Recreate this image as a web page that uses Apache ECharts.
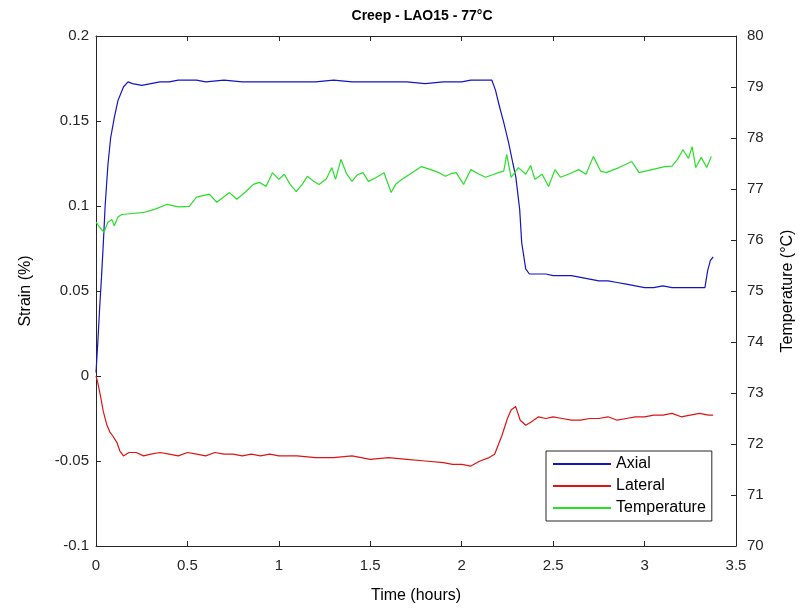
<!DOCTYPE html>
<html>
<head>
<meta charset="utf-8">
<script src="https://cdn.jsdelivr.net/npm/echarts@6/dist/echarts.min.js"></script>
<style>
  html, body { margin: 0; padding: 0; background: #fff; }
  #chart { width: 804px; height: 609px; }
</style>
</head>
<body>
<div id="chart"></div>
<script>
// axial strain (%) vs time (hours)
var axialTime = [0, 0.01, 0.02, 0.03, 0.04, 0.05, 0.065, 0.08, 0.1, 0.12, 0.15, 0.175,
  0.2, 0.25, 0.3, 0.35, 0.4, 0.45, 0.5, 0.55, 0.6,
  0.7, 0.8, 0.9, 1.0, 1.1, 1.2, 1.3, 1.4, 1.5, 1.6, 1.7, 1.8, 1.9, 2.0,
  2.05, 2.1,
  2.165, 2.185, 2.203, 2.23, 2.257, 2.28, 2.296, 2.317, 2.328, 2.35,
  2.37, 2.42, 2.46,
  2.5, 2.55, 2.6, 2.65, 2.7, 2.75, 2.8, 2.85, 2.9, 2.95, 3.0, 3.05, 3.1, 3.15, 3.2, 3.25, 3.3,
  3.33, 3.345, 3.36, 3.375];
var axialStrain = [0.002, 0.02, 0.04, 0.058, 0.078, 0.1, 0.124, 0.14, 0.152, 0.162, 0.17, 0.173,
  0.172, 0.171, 0.172, 0.173, 0.173, 0.174, 0.174, 0.174, 0.173,
  0.174, 0.173, 0.173, 0.173, 0.173, 0.173, 0.174, 0.173, 0.173, 0.173, 0.173, 0.172, 0.173, 0.173,
  0.174, 0.174,
  0.174, 0.168, 0.16, 0.149, 0.137, 0.125, 0.117, 0.098, 0.0785, 0.063,
  0.06, 0.06, 0.06,
  0.059, 0.059, 0.059, 0.058, 0.057, 0.056, 0.056, 0.055, 0.054, 0.053, 0.052, 0.052, 0.053, 0.052, 0.052, 0.052, 0.052,
  0.052, 0.062, 0.068, 0.07];

// lateral strain (%)
var lateralTime = [0, 0.01, 0.025, 0.04, 0.06, 0.076, 0.09, 0.114, 0.13, 0.15,
  0.18, 0.22, 0.26,
  0.3, 0.35, 0.4, 0.45, 0.5, 0.55, 0.6, 0.65, 0.7, 0.75, 0.8, 0.85, 0.9, 0.95, 1.0,
  1.1, 1.2, 1.3, 1.4, 1.5, 1.6, 1.7, 1.8, 1.9,
  1.95, 2.0, 2.05, 2.1, 2.15,
  2.18, 2.22, 2.25, 2.27, 2.295, 2.32, 2.35, 2.38, 2.42, 2.46,
  2.5, 2.55, 2.6, 2.65, 2.7, 2.75, 2.8, 2.85, 2.9, 2.95, 3.0, 3.05, 3.1, 3.15, 3.2, 3.25, 3.3, 3.35,
  3.375];
var lateralStrain = [0, -0.004, -0.012, -0.021, -0.029, -0.033, -0.035, -0.039, -0.044, -0.047,
  -0.045, -0.045, -0.047,
  -0.046, -0.045, -0.046, -0.047, -0.045, -0.046, -0.047, -0.045, -0.046, -0.046, -0.047, -0.046, -0.047, -0.046, -0.047,
  -0.047, -0.048, -0.048, -0.047, -0.049, -0.048, -0.049, -0.05, -0.051,
  -0.052, -0.052, -0.053, -0.05, -0.048,
  -0.046, -0.035, -0.025, -0.02, -0.018, -0.026, -0.029, -0.027, -0.024, -0.025,
  -0.024, -0.025, -0.026, -0.026, -0.025, -0.025, -0.024, -0.026, -0.025, -0.024, -0.024, -0.023, -0.023, -0.022, -0.024, -0.023, -0.022, -0.023,
  -0.023];

// temperature (°C), right axis
var tempTime = [0, 0.02, 0.044, 0.065, 0.087, 0.1, 0.12, 0.14, 0.2, 0.26, 0.32, 0.39, 0.45, 0.51, 0.55,
  0.62, 0.66, 0.7, 0.73, 0.77, 0.82, 0.86, 0.894, 0.93, 0.965, 1.0, 1.03, 1.06, 1.095, 1.13,
  1.156, 1.19, 1.22, 1.26, 1.29, 1.31, 1.34, 1.37, 1.40, 1.43, 1.46, 1.49, 1.53, 1.575, 1.614,
  1.64, 1.674, 1.72, 1.78, 1.83, 1.876, 1.91, 1.94, 1.97, 2.01, 2.05, 2.09, 2.13, 2.17, 2.2,
  2.23, 2.246, 2.27, 2.31, 2.35, 2.377, 2.40, 2.44, 2.475, 2.51, 2.54, 2.59, 2.64, 2.68, 2.72,
  2.76, 2.79, 2.86, 2.93, 2.97, 3.04, 3.11, 3.15, 3.18, 3.21, 3.24, 3.26, 3.28, 3.31, 3.34, 3.365];
var tempValue = [76.35, 76.25, 76.15, 76.35, 76.4, 76.28, 76.45, 76.5, 76.52, 76.54, 76.6, 76.7, 76.65, 76.66, 76.84,
  76.9, 76.74, 76.85, 76.93, 76.8, 76.95, 77.09, 77.13, 77.05, 77.32, 77.19, 77.29, 77.1, 76.95, 77.1,
  77.25, 77.15, 77.09, 77.2, 77.42, 77.19, 77.58, 77.3, 77.15, 77.28, 77.32, 77.15, 77.22, 77.32, 76.93,
  77.1, 77.19, 77.3, 77.44, 77.38, 77.32, 77.25, 77.3, 77.32, 77.09, 77.38, 77.3, 77.23, 77.28, 77.32,
  77.35, 77.68, 77.23, 77.42, 77.29, 77.46, 77.19, 77.29, 77.05, 77.38, 77.23, 77.3, 77.38, 77.29, 77.64,
  77.35, 77.32, 77.42, 77.54, 77.32, 77.38, 77.44, 77.45, 77.58, 77.77, 77.6, 77.83, 77.42, 77.62, 77.42, 77.64];

function pairs(xs, ys) {
  return xs.map(function (x, i) { return [x, ys[i]]; });
}

var axisColor = '#262626';
var font = 'Liberation Sans, Arial, sans-serif';
var tick = { inside: true, length: 5, lineStyle: { color: axisColor } };

var chart = echarts.init(document.getElementById('chart'));
chart.setOption({
  animation: false,
  textStyle: { fontFamily: font },
  title: {
    text: 'Creep - LAO15 - 77°C',
    left: 417,
    textAlign: 'center',
    top: 4,
    textStyle: { fontSize: 14, fontWeight: 'bold', color: '#000', fontFamily: font }
  },
  grid: { left: 96, right: 66, top: 36, bottom: 61 },
  legend: {
    orient: 'vertical',
    left: 546,
    top: 451,
    icon: 'rect',
    itemWidth: 58,
    itemHeight: 2,
    itemGap: 6,
    padding: [5, 6, 5, 7],
    borderColor: '#262626',
    borderWidth: 1,
    backgroundColor: '#fff',
    textStyle: { fontSize: 16, color: '#000', fontFamily: font },
    data: ['Axial', 'Lateral', 'Temperature']
  },
  xAxis: [{
    type: 'value',
    min: 0, max: 3.5, interval: 0.5,
    name: 'Time (hours)',
    nameLocation: 'middle',
    nameGap: 42,
    nameTextStyle: { fontSize: 16, color: '#000' },
    axisLine: { onZero: false, lineStyle: { color: axisColor } },
    axisTick: tick,
    axisLabel: { fontSize: 15, color: axisColor, margin: 12 },
    splitLine: { show: false }
  }, {
    type: 'value',
    position: 'top',
    min: 0, max: 3.5, interval: 0.5,
    axisLine: { onZero: false, lineStyle: { color: axisColor } },
    axisTick: tick,
    axisLabel: { show: false },
    splitLine: { show: false }
  }],
  yAxis: [{
    type: 'value',
    min: -0.1, max: 0.2, interval: 0.05,
    name: 'Strain (%)',
    nameLocation: 'middle',
    nameGap: 62,
    nameTextStyle: { fontSize: 16, color: '#000' },
    axisLine: { show: true, onZero: false, lineStyle: { color: axisColor } },
    axisTick: tick,
    axisLabel: {
      fontSize: 15, color: axisColor, margin: 7,
      formatter: function (v) { return String(Math.round(v * 100) / 100); }
    },
    splitLine: { show: false }
  }, {
    type: 'value',
    position: 'right',
    min: 70, max: 80, interval: 1,
    name: 'Temperature (°C)',
    nameLocation: 'middle',
    nameGap: 44,
    nameRotate: 90,
    nameTextStyle: { fontSize: 16, color: '#000' },
    axisLine: { show: true, onZero: false, lineStyle: { color: axisColor } },
    axisTick: tick,
    axisLabel: { fontSize: 15, color: axisColor, margin: 11 },
    splitLine: { show: false }
  }],
  series: [{
    name: 'Axial',
    type: 'line',
    yAxisIndex: 0,
    symbol: 'none',
    data: pairs(axialTime, axialStrain),
    lineStyle: { width: 1.2, color: '#1414c0' },
    itemStyle: { color: '#1414c0' }
  }, {
    name: 'Lateral',
    type: 'line',
    yAxisIndex: 0,
    symbol: 'none',
    data: pairs(lateralTime, lateralStrain),
    lineStyle: { width: 1.2, color: '#dc1414' },
    itemStyle: { color: '#dc1414' }
  }, {
    name: 'Temperature',
    type: 'line',
    yAxisIndex: 1,
    symbol: 'none',
    data: pairs(tempTime, tempValue),
    lineStyle: { width: 1.2, color: '#28e028' },
    itemStyle: { color: '#28e028' }
  }]
});
</script>
</body>
</html>
